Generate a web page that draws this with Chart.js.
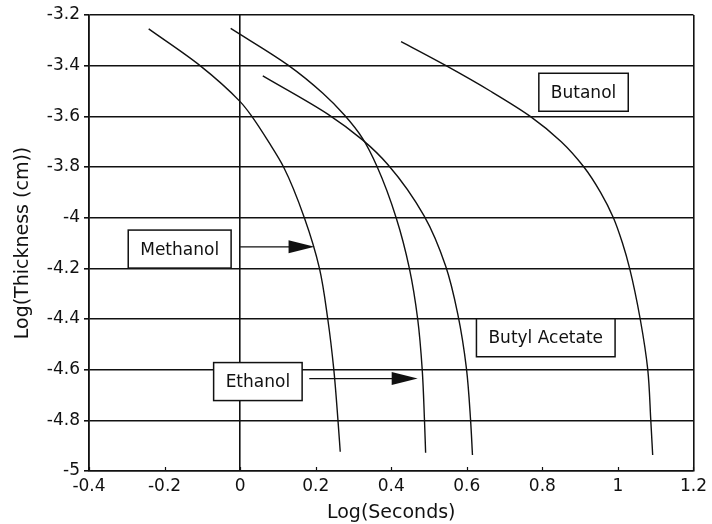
<!DOCTYPE html>
<html>
<head>
<meta charset="utf-8">
<script src="https://cdn.jsdelivr.net/npm/chart.js@4/dist/chart.umd.min.js"></script>
<style>
  html, body { margin: 0; padding: 0; background: #fff; }
  #wrap { width: 712px; height: 524px; }
</style>
</head>
<body>
<div id="wrap"><canvas id="c" width="712" height="524"></canvas></div>
<script>
// Evaporation curves: log film thickness vs log time
const xTicks = [-0.4, -0.2, 0, 0.2, 0.4, 0.6, 0.8, 1, 1.2];
const yTicks = [-5, -4.8, -4.6, -4.4, -4.2, -4, -3.8, -3.6, -3.4, -3.2];

const methanolX = [-0.242, -0.106, 0, 0.031, 0.075, 0.115, 0.170, 0.210, 0.232, 0.248, 0.259, 0.265];
const methanolY = [-3.255, -3.4, -3.542, -3.6, -3.7, -3.8, -4.0, -4.2, -4.4, -4.6, -4.8, -4.924];

const ethanolX = [-0.025, 0.126, 0.219, 0.276, 0.324, 0.363, 0.413, 0.448, 0.470, 0.482, 0.488, 0.491];
const ethanolY = [-3.253, -3.397, -3.509, -3.595, -3.687, -3.8, -4.0, -4.2, -4.4, -4.6, -4.8, -4.928];

const butylAcetateX = [0.06, 0.232, 0.324, 0.392, 0.487, 0.544, 0.576, 0.599, 0.61, 0.615];
const butylAcetateY = [-3.44, -3.591, -3.693, -3.792, -3.993, -4.191, -4.38, -4.595, -4.799, -4.937];

const butanolX = [0.426, 0.545, 0.662, 0.768, 0.850, 0.910, 0.954, 0.988, 1.012, 1.031, 1.059, 1.079, 1.087, 1.092];
const butanolY = [-3.305, -3.4, -3.5, -3.6, -3.7, -3.8, -3.9, -4.0, -4.1, -4.2, -4.4, -4.6, -4.8, -4.937];

const toPoints = (xs, ys) => xs.map((x, i) => ({ x, y: ys[i] }));

// Boxed labels (centre in data units) and their pointer arrows
const callouts = [
  { text: 'Methanol',      x: -0.16, y: -4.124 },
  { text: 'Ethanol',       x: 0.047, y: -4.647 },
  { text: 'Butanol',       x: 0.909, y: -3.505 },
  { text: 'Butyl Acetate', x: 0.809, y: -4.474 }
];
const arrows = [
  { x0: 0.0,   x1: 0.197, y: -4.115 },
  { x0: 0.183, x1: 0.47,  y: -4.635 }
];

const FONT = 'DejaVu Sans';
const INK = '#111';

const calloutPlugin = {
  id: 'callouts',
  afterDatasetsDraw(chart) {
    const { ctx, scales: { x, y } } = chart;
    ctx.save();
    // small inward tick marks on the bottom axis
    ctx.strokeStyle = INK;
    ctx.lineWidth = 1.2;
    const bottom = chart.chartArea.bottom;
    xTicks.forEach(v => {
      const px = Math.round(x.getPixelForValue(v)) + 0.5;
      ctx.beginPath();
      ctx.moveTo(px, bottom);
      ctx.lineTo(px, bottom - 4);
      ctx.stroke();
    });
    // arrows
    arrows.forEach(a => {
      const px0 = x.getPixelForValue(a.x0);
      const px1 = x.getPixelForValue(a.x1);
      const py = y.getPixelForValue(a.y);
      const headLen = 26, headHalf = 6.5;
      ctx.strokeStyle = INK;
      ctx.lineWidth = 1.3;
      ctx.beginPath();
      ctx.moveTo(px0, py);
      ctx.lineTo(px1 - headLen + 2, py);
      ctx.stroke();
      ctx.fillStyle = INK;
      ctx.beginPath();
      ctx.moveTo(px1, py);
      ctx.lineTo(px1 - headLen, py - headHalf);
      ctx.lineTo(px1 - headLen, py + headHalf);
      ctx.closePath();
      ctx.fill();
    });
    // boxed labels
    ctx.font = '17px "' + FONT + '"';
    ctx.textAlign = 'center';
    ctx.textBaseline = 'middle';
    callouts.forEach(c => {
      const cx = x.getPixelForValue(c.x);
      const cy = y.getPixelForValue(c.y);
      const w = ctx.measureText(c.text).width + 24;
      const h = 38;
      ctx.fillStyle = '#fff';
      ctx.fillRect(cx - w / 2, cy - h / 2, w, h);
      ctx.strokeStyle = INK;
      ctx.lineWidth = 1.5;
      ctx.strokeRect(cx - w / 2, cy - h / 2, w, h);
      ctx.fillStyle = INK;
      ctx.fillText(c.text, cx, cy + 1);
    });
    ctx.restore();
  }
};

// thickness is the independent direction, so each curve is interpolated as x(y)
const lineStyle = {
  borderColor: INK,
  borderWidth: 1.4,
  pointRadius: 0,
  cubicInterpolationMode: 'monotone',
  fill: false
};

const fmt = v => String(Math.round(v * 10) / 10);

new Chart(document.getElementById('c'), {
  type: 'line',
  data: {
    datasets: [
      { label: 'Methanol', data: toPoints(methanolX, methanolY), ...lineStyle },
      { label: 'Ethanol', data: toPoints(ethanolX, ethanolY), ...lineStyle },
      { label: 'Butyl Acetate', data: toPoints(butylAcetateX, butylAcetateY), ...lineStyle },
      { label: 'Butanol', data: toPoints(butanolX, butanolY), ...lineStyle }
    ]
  },
  options: {
    indexAxis: 'y',
    responsive: false,
    animation: false,
    layout: { padding: { top: 15, right: 17, left: 0, bottom: 0 } },
    plugins: { legend: { display: false }, tooltip: { enabled: false } },
    scales: {
      x: {
        type: 'linear',
        position: 'bottom',
        min: -0.4,
        max: 1.2,
        afterBuildTicks: s => { s.ticks = xTicks.map(v => ({ value: v })); },
        afterFit: s => { s.height = 53; },
        ticks: {
          color: INK,
          padding: 5,
          maxRotation: 0,
          font: { family: FONT, size: 17 },
          callback: fmt
        },
        grid: {
          drawTicks: false,
          lineWidth: 1.6,
          color: c => {
            const v = c.tick ? c.tick.value : null;
            return (v === -0.4 || v === 0 || v === 1.2) ? INK : 'rgba(0,0,0,0)';
          }
        },
        border: { display: true, color: INK, width: 1.6 },
        title: {
          display: true,
          text: 'Log(Seconds)',
          color: INK,
          font: { family: FONT, size: 19, weight: 'normal' },
          padding: { top: 0, bottom: 0 }
        }
      },
      y: {
        type: 'linear',
        position: 'left',
        min: -5,
        max: -3.2,
        afterBuildTicks: s => { s.ticks = yTicks.map(v => ({ value: v })); },
        afterFit: s => { s.width = 89; },
        ticks: {
          color: INK,
          padding: 4,
          font: { family: FONT, size: 17 },
          callback: fmt
        },
        grid: {
          drawTicks: true,
          tickLength: 5,
          lineWidth: 1.6,
          color: INK
        },
        border: { display: true, color: INK, width: 1.6 },
        title: {
          display: true,
          text: 'Log(Thickness (cm))',
          color: INK,
          font: { family: FONT, size: 19, weight: 'normal' },
          padding: { top: 12, bottom: 0 }
        }
      }
    }
  },
  plugins: [calloutPlugin]
});
</script>
</body>
</html>
